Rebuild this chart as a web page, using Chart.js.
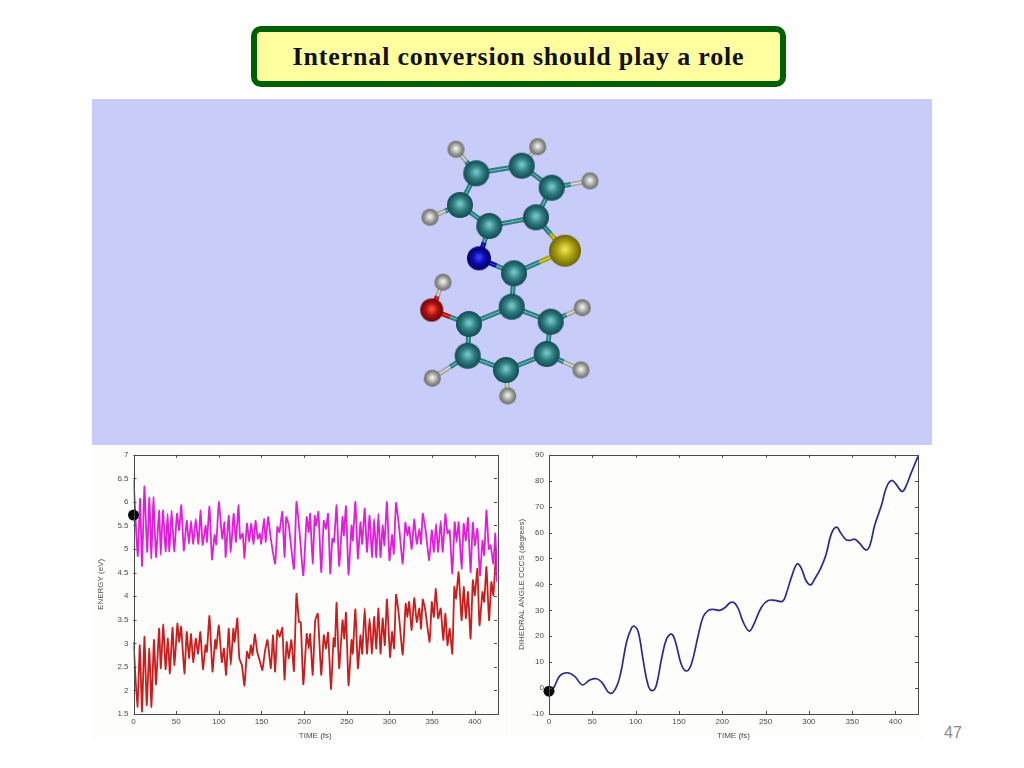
<!DOCTYPE html>
<html><head><meta charset="utf-8">
<script src="https://cdn.jsdelivr.net/npm/chart.js@4"></script>
<style>
html,body{margin:0;padding:0;background:#fff;width:1024px;height:768px;overflow:hidden}
canvas{position:absolute;display:block}
#panel{left:92px;top:99px;filter:blur(.4px)}
#energy{left:92px;top:445px;filter:blur(.55px)}
#angle{left:510px;top:445px;filter:blur(.55px)}
#title{position:absolute;left:251px;top:26px;width:523px;height:49px;border:6px solid #006000;border-radius:10px;background:#ffffa0;
font:bold 26px "Liberation Serif",serif;color:#111;text-align:center;line-height:50px;letter-spacing:.82px}
#page{position:absolute;left:944px;top:724px;font:16px "Liberation Sans",sans-serif;color:#8a8a8a}
</style></head><body>
<div id="title">Internal conversion should play a role</div>
<canvas id="panel" width="840" height="346"></canvas>
<canvas id="energy" width="416" height="296"></canvas>
<canvas id="angle" width="415" height="296"></canvas>
<div id="page">47</div>
<script>
const energyYTicks=[1.5,2,2.5,3,3.5,4,4.5,5,5.5,6,6.5,7];
const angleYTicks=[-10,0,10,20,30,40,50,60,70,80,90];
const timeTicks=[0,50,100,150,200,250,300,350,400];
const upperTime=[0,5,7.7,10,12.8,16,18.6,21,23.3,26.4,30,32,34.5,37.6,40,42,44.6,47.7,51,53.5,56,59,62.4,65,67.4,70,73,76,78.7,81,84.5,86,89,92,95,97,100,104,106.6,108,111.6,114,117.4,120,123,125,128,130,133,135.6,138,140.7,143,145.7,148,149.6,153,155,157.7,160.9,166,168.6,171,174.4,177,179,182,188,191,194.6,199,203,205.4,207,210,212.4,214,216.7,220,223,225.6,228,230.6,233,235,238,241,245,246.5,249,252,255.5,257,260,263,266,268,271,273.6,276.7,279.5,282,284.5,287,289.5,292,294,297,300,303,305,307.7,311.6,315.5,318.6,321,323,326,329,332,335,337,339,342.6,346.5,349.6,352,354.6,357,360,362.4,365.5,368,370.5,373.6,376.4,378.7,381,384.5,387,389.5,392,395,397.7,400,403,406,409,411,413.6,416.4,418.5,421.7,424,426];
const upperEnergy=[6.5,4.85,6.07,4.64,6.33,4.94,6.09,4.8,6.1,4.83,5.82,4.87,5.82,4.95,5.75,4.95,5.82,4.95,5.75,5.4,5.93,4.97,5.6,5.11,5.6,5.11,5.64,5.11,5.82,5.09,5.5,5.15,5.9,4.78,5.3,5.1,6,5.22,5.57,4.83,5.71,4.94,5.75,5.15,5.93,5.22,5.33,4.81,5.54,5.15,5.54,5.11,5.6,5.22,5.33,5.11,5.64,5.15,5.68,5.22,4.69,5.47,5.36,5.79,4.83,5.68,5.5,4.58,6,5.36,4.44,5.68,5.36,5.75,4.69,5.71,5.5,5.79,4.51,5.6,5.43,5.75,4.48,5.22,5.15,5.93,4.64,5.68,5.29,5.91,4.46,5.5,5.18,6,4.8,5.57,5.11,5.86,4.94,5.71,4.83,5.64,4.83,5.75,4.83,5.5,5.08,6,4.76,5.3,4.9,5.98,5.4,4.69,5.56,5.29,5.47,5,5.63,5.11,5.43,5.11,5.75,5.36,4.76,5.4,4.94,5.54,4.94,5.6,4.94,5.74,5.33,5.4,4.48,5.57,5.15,5.57,4.58,5.54,5.18,5.66,4.51,5.56,5.08,5.43,4.44,5.18,4.87,5.82,5,5.08,4.69,5.33,4.3];
const lowerTime=[0,4.6,7.4,10,12.8,15.5,18.6,21,24,26.4,30,32,35,37.6,40.3,42.6,45.7,48,51.5,53.5,55.8,59.7,62.4,65,67.4,70,73,75.6,78.3,81.4,84.5,86,89,92.6,95.7,97,100,103.5,106,108.5,111.6,114,117,118.5,121.7,124,127,130,133,135.5,137.6,139.5,142.2,145,148.4,151,154,157,161,163.5,166,168.6,171.3,174.4,177,179.5,182,185,188,191,194,196,199,203,205.4,207,210,213,216,220,223,225.6,228,231.4,234.5,236,238,241,245,247,249,252,255.5,257,260,263,266,268,271,273.6,276.7,279.5,282,284.5,287,289.5,292,294.5,297,300.7,303,305.4,307.7,311,315.5,319,321,323,326,329,332,335,337,339,342,347,349.6,352,354.3,357,360,363,365.5,368,370.5,373.6,376,378,381,384.5,387,389.5,392,395,397.7,400,403,405.5,409,411,413.6,416.7,419.4,421.7,425];
const lowerEnergy=[3.03,1.65,2.96,1.55,3.14,1.69,2.89,1.65,3.07,2.13,3.31,2.47,3.4,2.45,3.1,2.36,3.33,2.54,3.42,3.03,3.35,2.36,3.24,2.68,3.2,2.6,3.1,2.78,3.24,2.45,2.96,2.82,3.58,2.4,3.07,2.89,3.38,2.6,2.89,2.33,3.31,2.54,3.31,3.03,3.53,2.68,2.54,2.1,2.82,2.68,2.96,2.75,3.19,2.82,2.6,2.43,2.82,3.07,2.47,3.17,2.4,3.28,3.14,3.33,2.23,3.03,2.68,3.07,2.41,4.05,3.45,3.45,2.13,3.2,2.89,3.2,2.33,3.49,3.63,2.33,3.17,2.89,3.23,2.03,3.11,2.93,3.86,2.47,3.49,3.1,3.65,2.11,3.07,2.78,3.72,2.47,3.17,2.78,3.74,2.78,3.53,2.78,3.56,2.89,3.74,2.78,3.53,2.96,3.93,2.71,3.24,2.89,4.03,3.6,2.76,3.84,3.56,3.88,3.28,3.96,3.45,3.74,3.31,3.93,3.7,3.03,3.88,3.56,4.16,3.53,3.74,3.07,3.63,2.96,3.31,2.78,4.2,3.95,4.51,3.49,4.2,3.53,4.09,3.1,4.34,4.02,4.58,3.38,4.09,3.88,4.62,3.49,4.3,4.02,4.97];
const angleTime=[0,5,12.7,22,30,38.5,47,55,61,70.4,77,82.7,89.6,95.4,98.5,103,109,114.6,119.6,124,130,135.8,141.5,146,153,159,164.6,172.3,178,184,189.6,197,203,209,213.5,218.5,224,231,236,245.4,253,261,269.6,274,280,286.5,291.5,296.5,302,307,313.5,319.6,326,332,336.5,342.7,347.3,353,359,365.8,370.4,376,383.8,389.6,395.4,400.4,407,410.8,418.5,426];
const angleValues=[-1.1,-0.1,4.8,5.9,4.4,1.2,3.1,3.6,2.2,-2,-0.1,5.7,17.9,23.2,23.9,21.7,10.2,0.9,-1,1.2,11.4,19.1,20.8,17.9,8.9,6.6,9.5,20.4,27.5,30,30.4,30,31,32.9,33,30.7,25.6,22,24.3,31.3,33.8,33.8,33.5,36.5,42.9,47.9,46.1,41.6,39.8,42.3,46.1,51.2,59.6,62.1,60,57.3,57,57.4,55.7,53.3,55,62.8,70.5,77.5,80.1,78.8,75.9,76.9,83.3,89.4];
const energyMarker=[{x:0,y:5.72}];
const angleMarker=[{x:0,y:-1.2}];

const atomX=[476.3,521.7,551.7,536,489.3,460,514,511.7,469,550.7,467.7,546.7,506,456,537.7,590,430,443,582.3,581,432.3,507.7,479,565,431.7];
const atomY=[173.3,165.7,187.7,217.3,226,205,273.3,306.7,324,321.7,355.7,354,370,149.3,146.7,181,217.3,282.3,307.7,370,378.3,396,258.3,250.7,310];
const atomKind=["C","C","C","C","C","C","C","C","C","C","C","C","C","H","H","H","H","H","H","H","H","H","N","S","O"];
const bondFrom=[0,1,2,3,4,5,4,3,6,6,6,7,7,8,9,10,11,8,24,13,14,15,16,18,19,20,21];
const bondTo=  [1,2,3,4,5,0,22,23,22,23,7,8,9,10,11,12,12,24,17,0,1,2,5,9,11,10,12];
const kinds={C:{r:13,hi:"#74c4c4",mid:"#2c7c80",lo:"#144a50"},H:{r:8.5,hi:"#f0f0f0",mid:"#a8a8a4",lo:"#686860"},
N:{r:12,hi:"#3c3cff",mid:"#0a0aa8",lo:"#040460"},S:{r:16,hi:"#e8e050",mid:"#a8a010",lo:"#6c6408"},O:{r:11.5,hi:"#ff5040",mid:"#b01010",lo:"#680808"}};

function sprite(k){
  const s=kinds[k],c=document.createElement('canvas'),d=Math.ceil(s.r*2+2);c.width=c.height=d;
  const g=c.getContext('2d'),m=d/2,gr=g.createRadialGradient(m,m-s.r*.1,s.r*.08,m,m,s.r);
  gr.addColorStop(0,s.hi);gr.addColorStop(.5,s.mid);gr.addColorStop(1,s.lo);
  g.fillStyle=gr;g.beginPath();g.arc(m,m,s.r,0,Math.PI*2);g.fill();return c;
}
const atomSets=Object.keys(kinds).map(k=>({
  type:'scatter',label:k,pointStyle:sprite(k),pointRadius:kinds[k].r,order:1,
  data:atomX.map((x,i)=>({x,y:atomY[i],k:atomKind[i]})).filter(p=>p.k===k)
}));
const bondSets=[];
bondFrom.forEach((a,i)=>{
  const b=bondTo[i],mx=(atomX[a]+atomX[b])/2,my=(atomY[a]+atomY[b])/2;
  [[a,mx,my],[b,mx,my]].forEach(([e,x,y])=>{
    const s=kinds[atomKind[e]];
    bondSets.push({type:'line',order:2,pointRadius:0,borderColor:s.mid,borderWidth:5,
      data:[{x:atomX[e],y:atomY[e]},{x,y}]});
    bondSets.push({type:'line',order:1.5,pointRadius:0,borderColor:s.hi,borderWidth:1,
      data:[{x:atomX[e],y:atomY[e]},{x,y}]});
  });
});
new Chart(document.getElementById('panel'),{
  data:{datasets:[...atomSets,...bondSets]},
  options:{responsive:false,animation:false,events:[],layout:{padding:0,autoPadding:false},
    plugins:{legend:{display:false},tooltip:{enabled:false}},
    scales:{x:{type:'linear',display:false,min:92,max:932},y:{type:'linear',display:false,reverse:true,min:99,max:445}}},
  plugins:[{id:'bg',beforeDraw(c){const g=c.ctx;g.fillStyle='#c8ccf9';g.fillRect(0,0,c.width,c.height);}}]
});

const frame={id:'frame',
  beforeDraw(c){const g=c.ctx;g.fillStyle='#fdfdfc';g.fillRect(0,0,c.width,c.height);},
  afterDraw(c){
    const g=c.ctx,a=c.chartArea,xs=c.scales.x,ys=c.scales.y;
    g.save();g.strokeStyle='#4a4a4a';g.lineWidth=1;
    g.strokeRect(Math.round(a.left)+.5,Math.round(a.top)+.5,Math.round(a.width),Math.round(a.height));
    g.beginPath();
    xs.ticks.forEach(t=>{const p=Math.round(xs.getPixelForValue(t.value))+.5;g.moveTo(p,a.top);g.lineTo(p,a.top+3);g.moveTo(p,a.bottom);g.lineTo(p,a.bottom-3);});
    ys.ticks.forEach(t=>{const p=Math.round(ys.getPixelForValue(t.value))+.5;g.moveTo(a.left,p);g.lineTo(a.left+3,p);g.moveTo(a.right,p);g.lineTo(a.right-3,p);});
    g.stroke();g.restore();
  }};
function pairs(x,y){return x.map((v,i)=>({x:v,y:y[i]}));}
function plot(id,datasets,yMin,yMax,yTicks,yTitle,yW,rightPad,titleTop){
  new Chart(document.getElementById(id),{
    type:'line',data:{datasets},
    plugins:[frame],
    options:{responsive:false,animation:false,events:[],
      layout:{autoPadding:false,padding:{left:0,right:rightPad,top:9.5,bottom:0}},
      plugins:{legend:{display:false},tooltip:{enabled:false}},
      scales:{
        x:{type:'linear',min:0,max:426,grid:{display:false,drawTicks:false,tickLength:0},border:{display:false},
          afterBuildTicks(s){s.ticks=timeTicks.map(v=>({value:v}));},
          afterFit(s){s.height=27;},
          ticks:{color:'#4c4c4c',font:{size:8,family:'Liberation Sans'},padding:3,maxRotation:0,autoSkip:false,callback:v=>String(v)},
          title:{display:true,text:'TIME (fs)',color:'#4c4c4c',font:{size:8,family:'Liberation Sans'},padding:{top:4,bottom:0}}},
        y:{type:'linear',min:yMin,max:yMax,grid:{display:false,drawTicks:false,tickLength:0},border:{display:false},
          afterBuildTicks(s){s.ticks=yTicks.map(v=>({value:v}));},
          afterFit(s){s.width=yW;},
          ticks:{color:'#4c4c4c',font:{size:8,family:'Liberation Sans'},padding:5,autoSkip:false,callback:v=>String(v)},
          title:{display:true,text:yTitle,color:'#4c4c4c',font:{size:8,family:'Liberation Sans'},padding:{top:titleTop,bottom:4}}}
      }}
  });
}
const marker=d=>({data:d,showLine:false,pointRadius:5.5,pointBackgroundColor:'#0a0a0a',pointBorderWidth:0,clip:false});
plot('energy',[marker(energyMarker),
  {label:'upper',data:pairs(upperTime,upperEnergy),borderColor:'#e020d8',borderWidth:1.8,pointRadius:0,tension:0.15},
  {label:'lower',data:pairs(lowerTime,lowerEnergy),borderColor:'#c81e1e',borderWidth:1.8,pointRadius:0,tension:0.15}],
  1.5,7,energyYTicks,'ENERGY (eV)',41.5,11,4);
plot('angle',[marker(angleMarker),
  {label:'angle',data:pairs(angleTime,angleValues),borderColor:'#2a2a90',borderWidth:1.7,pointRadius:0,tension:0.4,clip:false}],
  -10,90,angleYTicks,'DIHEDRAL ANGLE CCCS (degrees)',39,7,7);
</script>
</body></html>
